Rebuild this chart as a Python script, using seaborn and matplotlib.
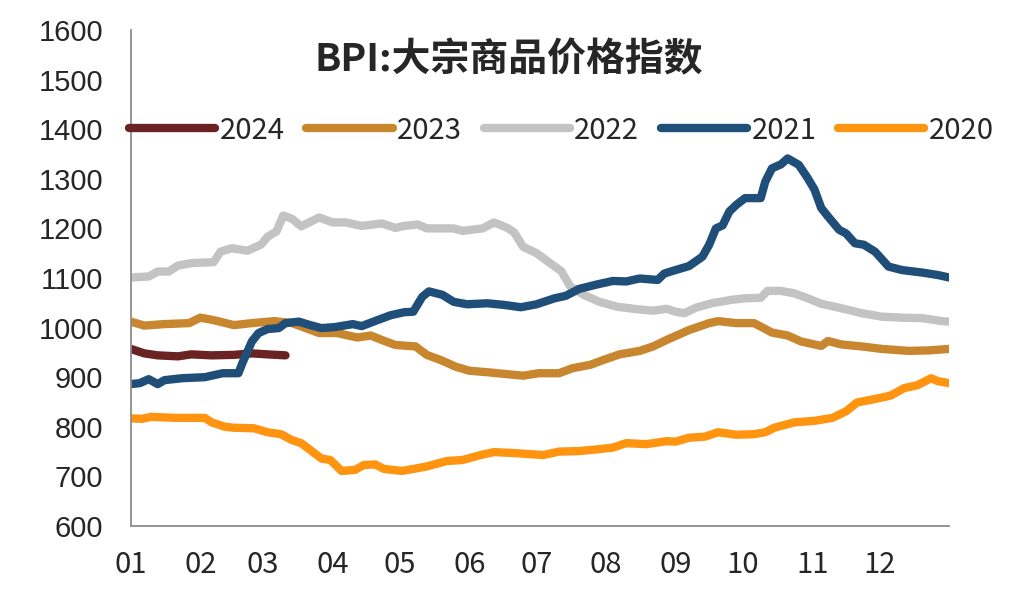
import matplotlib
matplotlib.use("Agg")
import pandas as pd
import seaborn as sns
import matplotlib.pyplot as plt
from matplotlib.lines import Line2D


# ==========================================================
# DATA (day of year -> BPI)
# ==========================================================

MONTH_START = [0, 31, 59, 90, 120, 151, 181, 212, 243, 273, 304, 334]
MONTH_LABELS = ["01", "02", "03", "04", "05", "06", "07", "08", "09", "10", "11", "12"]
Y_TICKS = [600, 700, 800, 900, 1000, 1100, 1200, 1300, 1400, 1500, 1600]

days_2024 = [0, 6, 12, 21, 27, 36, 46, 54, 61, 69]
bpi_2024 = [957, 948, 944, 942, 946, 944, 945, 948, 946, 944]

days_2023 = [0, 6, 15, 26, 31, 37, 46, 54, 64, 72,
             78, 84, 92, 101, 107, 112, 118, 127, 132, 138,
             145, 151, 159, 168, 175, 182, 191, 197, 205, 211,
             218, 227, 233, 239, 243, 249, 258, 262, 270, 278,
             281, 286, 293, 299, 308, 311, 317, 326, 335, 347,
             356, 365]
bpi_2023 = [1012, 1004, 1007, 1009, 1020, 1015, 1005, 1009, 1013, 1009,
            999, 989, 989, 980, 984, 975, 965, 962, 945, 935,
            921, 913, 910, 906, 903, 908, 908, 918, 925, 935,
            946, 953, 962, 975, 983, 995, 1009, 1013, 1009, 1009,
            1002, 990, 984, 972, 963, 973, 966, 962, 957, 953,
            954, 957]

days_2022 = [0, 8, 12, 17, 21, 27, 37, 40, 45, 52,
             58, 61, 65, 68, 72, 76, 84, 90, 96, 103,
             112, 118, 122, 128, 132, 144, 148, 157, 162, 168,
             171, 175, 181, 187, 192, 196, 202, 209, 217, 224,
             233, 239, 243, 247, 252, 259, 268, 274, 281, 284,
             290, 296, 302, 308, 317, 326, 335, 344, 353, 362,
             365]
bpi_2022 = [1101, 1103, 1113, 1113, 1125, 1130, 1132, 1153, 1160, 1155,
            1167, 1183, 1194, 1226, 1219, 1204, 1222, 1212, 1212, 1205,
            1210, 1201, 1205, 1208, 1200, 1200, 1195, 1200, 1212, 1201,
            1192, 1163, 1150, 1130, 1114, 1083, 1066, 1052, 1042, 1038,
            1034, 1038, 1032, 1029, 1040, 1049, 1056, 1059, 1060, 1074,
            1074, 1069, 1059, 1048, 1039, 1029, 1022, 1020, 1019, 1013,
            1012]

days_2021 = [0, 4, 8, 12, 15, 23, 33, 41, 48, 50,
             54, 57, 61, 66, 69, 75, 80, 85, 91, 99,
             103, 110, 116, 122, 126, 130, 133, 139, 144, 150,
             159, 166, 174, 181, 189, 194, 200, 208, 215, 221,
             227, 235, 238, 243, 249, 255, 258, 261, 264, 267,
             270, 274, 281, 283, 286, 290, 293, 298, 302, 305,
             308, 311, 316, 319, 323, 327, 332, 338, 344, 353,
             360, 365]
bpi_2021 = [886, 888, 896, 886, 894, 898, 900, 908, 908, 931,
            972, 989, 997, 999, 1009, 1012, 1005, 999, 1001, 1007,
            1003, 1015, 1025, 1031, 1032, 1062, 1073, 1066, 1052, 1047,
            1049, 1046, 1041, 1047, 1059, 1064, 1078, 1087, 1094, 1093,
            1099, 1096, 1109, 1116, 1124, 1143, 1167, 1200, 1206, 1234,
            1247, 1261, 1261, 1294, 1321, 1329, 1341, 1328, 1301, 1278,
            1241, 1224, 1197, 1190, 1170, 1167, 1153, 1123, 1116, 1111,
            1106, 1101]

days_2020 = [0, 5, 9, 20, 33, 36, 42, 46, 55, 61,
             67, 72, 76, 81, 85, 89, 94, 100, 104, 109,
             113, 121, 126, 132, 141, 148, 156, 162, 171, 184,
             191, 200, 209, 215, 221, 230, 239, 243, 249, 256,
             262, 270, 278, 283, 287, 296, 305, 313, 319, 324,
             332, 339, 345, 351, 357, 360, 365]
bpi_2020 = [817, 816, 820, 818, 818, 809, 800, 798, 797, 789,
            785, 773, 767, 750, 736, 733, 711, 713, 723, 724,
            715, 711, 715, 720, 731, 733, 743, 749, 747, 743,
            750, 751, 755, 758, 767, 765, 771, 770, 778, 780,
            789, 784, 785, 789, 798, 809, 812, 818, 831, 849,
            856, 863, 878, 884, 898, 892, 888]

YEARS = ["2024", "2023", "2022", "2021", "2020"]
COLORS = {"2024": "#6b2222", "2023": "#c8872e", "2022": "#c3c3c3",
          "2021": "#1f4e79", "2020": "#ff9410"}


# ==========================================================
# LONG TABLE
# ==========================================================

series = {
    "2024": (days_2024, bpi_2024),
    "2023": (days_2023, bpi_2023),
    "2022": (days_2022, bpi_2022),
    "2021": (days_2021, bpi_2021),
    "2020": (days_2020, bpi_2020),
}
frames = []
for year, (d, v) in series.items():
    frames.append(pd.DataFrame({"day": d, "bpi": v, "year": year}))
df = pd.concat(frames, ignore_index=True)


# ==========================================================
# PLOT
# ==========================================================

sns.set_style("white")
plt.rcParams["font.family"] = ["Noto Sans CJK SC", "DejaVu Sans"]

fig, ax = plt.subplots(figsize=(10.22, 5.95), dpi=100)
fig.subplots_adjust(left=0.128, right=0.9286, bottom=0.116, top=0.9496)

sns.lineplot(data=df, x="day", y="bpi", hue="year", hue_order=YEARS,
             palette=COLORS, estimator=None, sort=False, linewidth=6,
             legend=False, ax=ax)
for line in ax.get_lines():
    line.set_solid_capstyle("round")
    line.set_solid_joinstyle("round")

ax.set_xlim(0, 365)
ax.set_ylim(600, 1600)
ax.set_xticks(MONTH_START)
ax.set_xticklabels(MONTH_LABELS)
ax.set_yticks(Y_TICKS)
ax.set_xlabel("")
ax.set_ylabel("")

sns.despine(ax=ax)
for side in ["left", "bottom"]:
    ax.spines[side].set_color("#8c8c8c")
    ax.spines[side].set_linewidth(1.3)

ax.tick_params(axis="both", direction="in", length=7, width=1.2, color="#8c8c8c")
ax.tick_params(axis="x", labelsize=21, pad=17)
ax.tick_params(axis="y", labelsize=21, pad=20)
for lab in ax.get_yticklabels():
    lab.set_family("Liberation Sans")

# ── Legend ────────────────────────────────────────────────
handles = [Line2D([0], [0], color=COLORS[y], lw=6, solid_capstyle="round") for y in YEARS]
ax.legend(handles, YEARS, loc="center left", bbox_to_anchor=(-0.002, 0.797),
          ncol=5, frameon=False, fontsize=21, handlelength=2.95,
          handletextpad=0.15, columnspacing=0.75, borderpad=0, borderaxespad=0)

# ── Title ─────────────────────────────────────────────────
fig.text(509 / 1022, 1 - 60 / 595, "BPI:大宗商品价格指数", ha="center", va="center",
         fontsize=28, fontweight="bold")

fig.savefig("out.png", dpi=100)
